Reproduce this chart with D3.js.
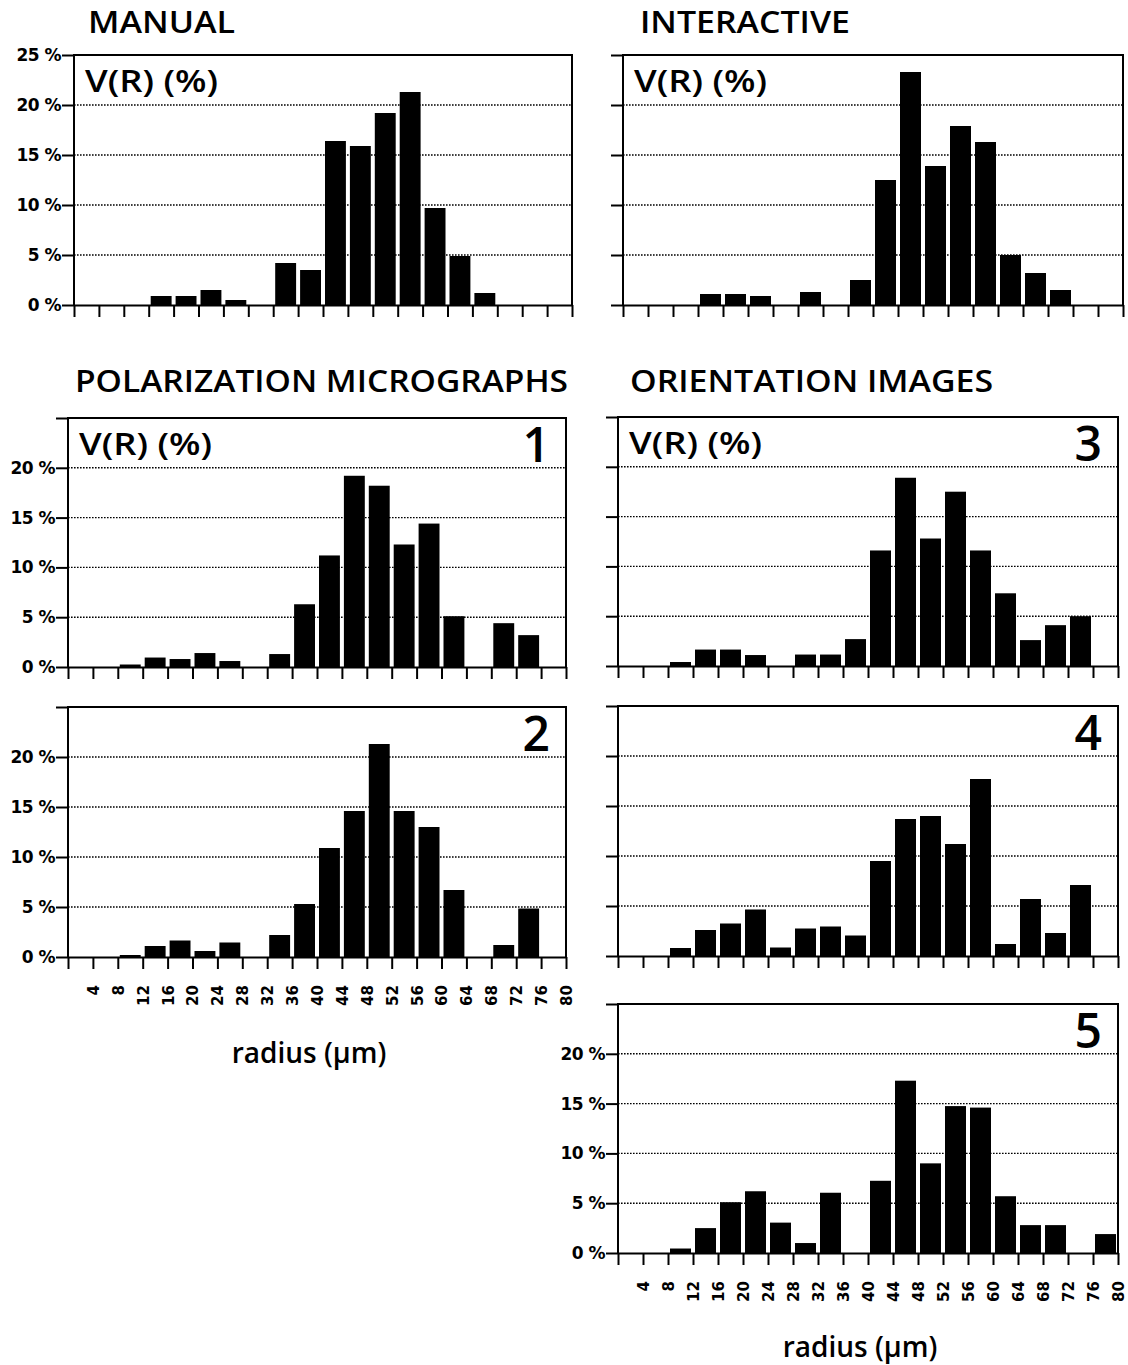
<!DOCTYPE html>
<html><head><meta charset="utf-8">
<script src="https://cdn.jsdelivr.net/npm/d3@7"></script>
<style>body{margin:0;background:#fff}svg{display:block}</style>
</head><body><svg id="c" width="1128" height="1365"></svg>
<script>
// ---- data ----
const binStarts = [0,4,8,12,16,20,24,28,32,36,40,44,48,52,56,60,64,68,72,76];
const binWidth = 4;
const xTickValues = [0,4,8,12,16,20,24,28,32,36,40,44,48,52,56,60,64,68,72,76,80];
const xTickLabels = ["","4","8","12","16","20","24","28","32","36","40","44","48","52","56","60","64","68","72","76","80"];
const yTickValues = [0,5,10,15,20,25];
const yTickLabelsFull = ["0 %","5 %","10 %","15 %","20 %","25 %"];
const yTickLabelsNo25 = ["0 %","5 %","10 %","15 %","20 %",""];
const gridValues = [5,10,15,20];

const manualValues      = [0,0,0,0.9,0.9,1.5,0.5,0,4.2,3.5,16.4,15.9,19.2,21.3,9.7,4.9,1.2,0,0,0];
const interactiveValues = [0,0,0,1.1,1.1,0.9,0,1.3,0,2.5,12.5,23.3,13.9,17.9,16.3,5.0,3.2,1.5,0,0];
const polar1Values      = [0,0,0.25,0.95,0.8,1.4,0.6,0,1.3,6.3,11.2,19.2,18.2,12.3,14.4,5.1,0,4.4,3.2,0];
const polar2Values      = [0,0,0.2,1.1,1.65,0.6,1.45,0,2.2,5.3,10.9,14.6,21.3,14.6,13.0,6.7,0,1.2,4.85,0];
const orient3Values     = [0,0,0.4,1.65,1.65,1.1,0,1.15,1.15,2.7,11.6,18.9,12.8,17.5,11.6,7.3,2.6,4.1,5.0,0];
const orient4Values     = [0,0,0.8,2.6,3.25,4.65,0.85,2.75,2.95,2.05,9.5,13.7,14.0,11.2,17.7,1.2,5.7,2.3,7.1,0];
const orient5Values     = [0,0,0.45,2.5,5.1,6.2,3.05,1.0,6.05,0,7.25,17.3,9.0,14.75,14.6,5.7,2.8,2.8,0,1.9];

const titles = [
  {text:"MANUAL", x:88, y:33, len:147},
  {text:"INTERACTIVE", x:640, y:33, len:210},
  {text:"POLARIZATION MICROGRAPHS", x:75, y:392, len:493},
  {text:"ORIENTATION IMAGES", x:630, y:392, len:363}
];
const axisTitle = "radius (µm)";
const vrLabel = "V(R) (%)";

// ---- layout ----
const panels = [
  {values:manualValues,      x0:74,  x1:572,  yTop:55,   y0:305,  yLabels:yTickLabelsFull, num:null, vr:true,  xLabels:false},
  {values:interactiveValues, x0:623, x1:1123, yTop:55,   y0:305,  yLabels:null,            num:null, vr:true,  xLabels:false},
  {values:polar1Values,      x0:68,  x1:566,  yTop:418,  y0:667,  yLabels:yTickLabelsNo25, num:"1",  vr:true,  xLabels:false},
  {values:orient3Values,     x0:618, x1:1118, yTop:417,  y0:666,  yLabels:null,            num:"3",  vr:true,  xLabels:false},
  {values:polar2Values,      x0:68,  x1:566,  yTop:707,  y0:957,  yLabels:yTickLabelsNo25, num:"2",  vr:false, xLabels:true},
  {values:orient4Values,     x0:618, x1:1118, yTop:706,  y0:956,  yLabels:null,            num:"4",  vr:false, xLabels:false},
  {values:orient5Values,     x0:618, x1:1118, yTop:1004, y0:1253, yLabels:yTickLabelsNo25, num:"5",  vr:false, xLabels:true}
];

const svg = d3.select("#c");
svg.append("rect").attr("width",1128).attr("height",1365).attr("fill","#fff");

const titleFont = "'Open Sans', 'Noto Sans', sans-serif";
const tickFont = "'DejaVu Sans', sans-serif";

titles.forEach(t => {
  svg.append("text").attr("x", t.x).attr("y", t.y)
    .attr("font-family", titleFont).attr("font-weight", 600).attr("font-size", 31)
    .attr("textLength", t.len).attr("lengthAdjust", "spacingAndGlyphs")
    .attr("fill", "#000").text(t.text);
});

panels.forEach(p => {
  const g = svg.append("g");
  const x = d3.scaleLinear().domain([0,80]).range([p.x0, p.x1]);
  const y = d3.scaleLinear().domain([0,25]).range([p.y0, p.yTop]);

  // grid
  g.selectAll("line.grid").data(gridValues).join("line")
    .attr("x1", p.x0).attr("x2", p.x1)
    .attr("y1", d => y(d)).attr("y2", d => y(d))
    .attr("stroke", "#000").attr("stroke-width", 1.4).attr("stroke-dasharray", "1.6,1.4");

  // bars
  const data = binStarts.map((b,i) => ({b, v:p.values[i]})).filter(d => d.v > 0);
  g.selectAll("rect.bar").data(data).join("rect")
    .attr("x", d => x(d.b) + 2)
    .attr("width", d => x(d.b + binWidth) - x(d.b) - 4)
    .attr("y", d => y(d.v))
    .attr("height", d => p.y0 - y(d.v))
    .attr("fill", "#000");

  // frame (left, top, right)
  g.append("path")
    .attr("d", `M${p.x0},${p.y0}V${p.yTop}H${p.x1}V${p.y0}`)
    .attr("fill","none").attr("stroke","#000").attr("stroke-width",2);

  // x axis
  const xa = d3.axisBottom(x).tickValues(xTickValues).tickSize(12).tickSizeOuter(0)
    .tickFormat((d,i) => p.xLabels ? xTickLabels[i] : "");
  const xg = g.append("g").attr("transform", `translate(0,${p.y0})`).call(xa);
  xg.select(".domain").attr("stroke-width", 2);
  xg.selectAll(".tick line").attr("stroke-width", 2);
  xg.selectAll(".tick text")
    .attr("transform", "rotate(-90)")
    .attr("x", -28).attr("y", 0).attr("dy", "0.36em")
    .attr("text-anchor", "end")
    .attr("font-family", tickFont).attr("font-weight", "bold").attr("font-size", 15)
    .attr("fill", "#000");

  // y axis
  const ya = d3.axisLeft(y).tickValues(yTickValues).tickSize(12).tickSizeOuter(0).tickPadding(1)
    .tickFormat((d,i) => p.yLabels ? p.yLabels[i] : "");
  const yg = g.append("g").attr("transform", `translate(${p.x0},0)`).call(ya);
  yg.select(".domain").remove();
  yg.selectAll(".tick line").attr("stroke-width", 2);
  yg.selectAll(".tick text")
    .attr("font-family", tickFont).attr("font-weight", "bold").attr("font-size", 17)
    .attr("letter-spacing", -0.5)
    .attr("dy", "0.32em").attr("fill", "#000");

  if (p.vr) {
    g.append("text").attr("x", p.x0 + 11).attr("y", p.yTop + 37)
      .attr("font-family", titleFont).attr("font-weight", 600).attr("font-size", 31)
      .attr("textLength", 133).attr("lengthAdjust", "spacingAndGlyphs")
      .attr("fill", "#000").text(vrLabel);
  }
  if (p.num) {
    g.append("text").attr("x", p.x1 - 16).attr("y", p.yTop + 44)
      .attr("text-anchor", "end")
      .attr("font-family", titleFont).attr("font-weight", 600).attr("font-size", 48)
      .attr("fill", "#000").text(p.num);
  }
});

// axis titles
[{x:309, y:1063},{x:860, y:1357}].forEach(a => {
  svg.append("text").attr("x", a.x).attr("y", a.y).attr("text-anchor","middle")
    .attr("font-family", titleFont).attr("font-weight", 600).attr("font-size", 28)
    .attr("fill","#000").text(axisTitle);
});
</script>
</body></html>
